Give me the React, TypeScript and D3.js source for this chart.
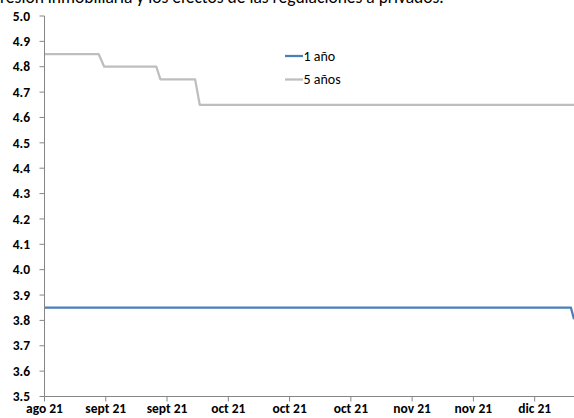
import React from "react";
import * as d3 from "d3";

const W = 574;
const H = 418;

const titleText = "resión inmobiliaria y los efectos de las regulaciones a privados.";

// x in days since first tick (ago 21); ticks every 12 days
const xTickDays = [0, 12, 24, 36, 48, 60, 72, 84, 96];
const xTickLabels = ["ago 21", "sept 21", "sept 21", "oct 21", "oct 21", "oct 21", "nov 21", "nov 21", "dic 21"];
const yTicks = [3.5, 3.6, 3.7, 3.8, 3.9, 4.0, 4.1, 4.2, 4.3, 4.4, 4.5, 4.6, 4.7, 4.8, 4.9, 5.0];

const seriesNames = ["1 año", "5 años"];
const seriesColors = ["#4a7ebb", "#bebebe"];

const oneYearDays = [0, 103.1, 103.7];
const oneYearValues = [3.85, 3.85, 3.805];

const fiveYearDays = [0, 10.6, 11.7, 21.9, 22.7, 29.5, 30.4, 103.7];
const fiveYearValues = [4.85, 4.85, 4.8, 4.8, 4.75, 4.75, 4.65, 4.65];

const FONT = "Carlito, Calibri, Lato, 'Liberation Sans', sans-serif";

export default function App() {
  const left = 44.5;
  const right = W;
  const top = 16;
  const bottom = 396.5;

  const x = d3.scaleLinear().domain([0, 103.7]).range([left, right]);
  const y = d3.scaleLinear().domain([3.5, 5.0]).range([bottom, top]);

  const line = d3
    .line<[number, number]>()
    .x((d) => x(d[0]))
    .y((d) => y(d[1]));

  const oneYear = oneYearDays.map((d, i) => [d, oneYearValues[i]] as [number, number]);
  const fiveYear = fiveYearDays.map((d, i) => [d, fiveYearValues[i]] as [number, number]);

  const axisColor = "#868686";

  return (
    <svg
      width={W}
      height={H}
      style={{ position: "absolute", left: 0, top: 0, background: "#fff" }}
      fontFamily={FONT}
    >
      <rect x={0} y={0} width={W} height={H} fill="#fff" />
      <text x={0} y={3} fontSize={17.5} fill="#000">
        {titleText}
      </text>

      {/* series */}
      <path d={line(fiveYear) || ""} fill="none" stroke={seriesColors[1]} strokeWidth={2.25} strokeLinejoin="round" />
      <path d={line(oneYear) || ""} fill="none" stroke={seriesColors[0]} strokeWidth={2.25} strokeLinejoin="round" />

      {/* y axis */}
      <line x1={left} x2={left} y1={top} y2={bottom} stroke={axisColor} strokeWidth={1} />
      {yTicks.map((t) => (
        <g key={t}>
          <line x1={left - 5} x2={left} y1={y(t)} y2={y(t)} stroke={axisColor} />
          <text x={30} y={y(t)} dy="0.35em" textAnchor="end" fontSize={13.5} fontWeight="bold" fill="#000">
            {t.toFixed(1)}
          </text>
        </g>
      ))}

      {/* x axis */}
      <line x1={left} x2={right} y1={bottom} y2={bottom} stroke={axisColor} strokeWidth={1} />
      {xTickDays.map((d, i) => (
        <g key={i}>
          <line x1={x(d)} x2={x(d)} y1={bottom} y2={bottom + 5} stroke={axisColor} />
          <text x={x(d)} y={413} textAnchor="middle" fontSize={13.5} fontWeight="bold" fill="#000">
            {xTickLabels[i]}
          </text>
        </g>
      ))}

      {/* legend */}
      {seriesNames.map((n, i) => (
        <g key={n}>
          <line x1={285} x2={303} y1={56 + i * 23.5} y2={56 + i * 23.5} stroke={seriesColors[i]} strokeWidth={2.25} />
          <text x={303.5} y={56 + i * 23.5} dy="0.35em" fontSize={14} fill="#000">
            {n}
          </text>
        </g>
      ))}
    </svg>
  );
}
